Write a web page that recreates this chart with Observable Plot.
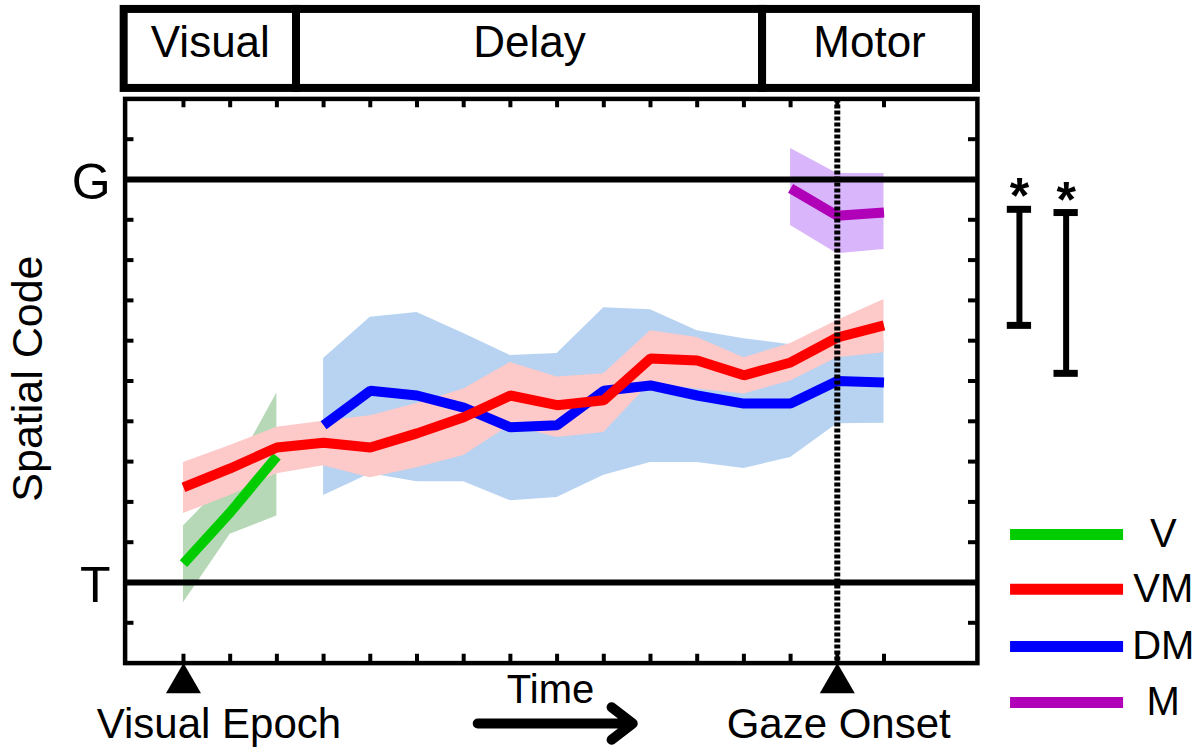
<!DOCTYPE html>
<html>
<head>
<meta charset="utf-8">
<script src="https://cdn.jsdelivr.net/npm/d3@7"></script>
<script src="https://cdn.jsdelivr.net/npm/@observablehq/plot@0.6"></script>
<style>
  html, body { margin: 0; padding: 0; background: #fff; }
  #chart { width: 1204px; height: 750px; }
</style>
</head>
<body>
<div id="chart"></div>
<script>
// ---------- data ----------
const FONT = "Liberation Sans, Arial, Helvetica, sans-serif";

// time bins (x positions of the tick marks)
const timeBins = [0, 1, 2, 3, 4, 5, 6, 7, 8, 9, 10, 11, 12, 13, 14, 15];
// spatial-code ticks (T = 0, G = 1)
const yTicks = [-0.1, 0, 0.1, 0.2, 0.3, 0.4, 0.5, 0.6, 0.7, 0.8, 0.9, 1, 1.1];

// V (visual) population
const vTimes = [0, 1, 2];
const vMean  = [0.047, 0.174, 0.313];
const vLower = [-0.05, 0.12, 0.165];
const vUpper = [0.14, 0.26, 0.47];

// VM (visuomovement) population
const vmTimes = [0, 1, 2, 3, 4, 5, 6, 7, 8, 9, 10, 11, 12, 13, 14, 15];
const vmMean  = [0.236, 0.283, 0.335, 0.347, 0.335, 0.37, 0.41, 0.464, 0.44, 0.452, 0.556, 0.551, 0.514, 0.546, 0.608, 0.638];
const vmLower = [0.171, 0.216, 0.27, 0.29, 0.26, 0.285, 0.315, 0.39, 0.36, 0.372, 0.495, 0.48, 0.468, 0.5, 0.558, 0.57];
const vmUpper = [0.298, 0.34, 0.385, 0.40, 0.414, 0.444, 0.48, 0.546, 0.51, 0.518, 0.625, 0.608, 0.558, 0.593, 0.65, 0.702];

// DM (delay-movement) population
const dmTimes = [3, 4, 5, 6, 7, 8, 9, 10, 11, 12, 13, 14, 15];
const dmMean  = [0.39, 0.476, 0.464, 0.434, 0.385, 0.39, 0.476, 0.489, 0.464, 0.444, 0.444, 0.50, 0.496];
const dmLower = [0.216, 0.27, 0.25, 0.25, 0.203, 0.211, 0.266, 0.298, 0.298, 0.283, 0.31, 0.394, 0.395];
const dmUpper = [0.556, 0.658, 0.67, 0.618, 0.563, 0.568, 0.682, 0.677, 0.625, 0.605, 0.59, 0.6, 0.6];

// M (movement) population
const mTimes = [13, 14, 15];
const mMean  = [0.978, 0.91, 0.918];
const mLower = [0.886, 0.816, 0.826];
const mUpper = [1.077, 1.015, 1.015];

// epochs (top boxes)
const epochNames = ["Visual", "Delay", "Motor"];
const epochStart = [-1.27, 2.42, 12.4];
const epochEnd   = [2.42, 12.4, 16.98];

// event markers
const eventLabels = ["Visual Epoch", "Gaze Onset"];
const eventTimes  = [0, 14];
const eventLabelX = [0.76, 14.03];

// significance bars
const sigX  = [17.9, 18.9];
const sigLo = [0.638, 0.519];
const sigHi = [0.926, 0.918];

// legend
const legendNames  = ["V", "VM", "DM", "M"];
const legendColors = ["#00cc00", "#ff0000", "#0000ff", "#b000b8"];
const legendY      = [0.119, -0.017, -0.159, -0.298];

// ---------- layout / styles ----------
const xDomain = [-1.25, 17];
const yDomain = [-0.2, 1.2];
const tickLenX = 0.19;
const tickLenY = 0.022;

const rows = (times, mean, lo, hi) => times.map((t, i) => ({t, mean: mean[i], lo: lo[i], hi: hi[i]}));
const vRows = rows(vTimes, vMean, vLower, vUpper);
const vmRows = rows(vmTimes, vmMean, vmLower, vmUpper);
const dmRows = rows(dmTimes, dmMean, dmLower, dmUpper);
const mRows = rows(mTimes, mMean, mLower, mUpper);

const epochs = epochNames.map((name, i) => ({name, x1: epochStart[i], x2: epochEnd[i], y1: 1.226, y2: 1.422, ty: 1.303}));
const events = eventLabels.map((label, i) => ({label, t: eventTimes[i], lx: eventLabelX[i], ly: -0.385, my: yDomain[0]}));
const sig = sigX.map((x, i) => ({x, lo: sigLo[i], hi: sigHi[i]}));
const sigCaps = sig.flatMap(d => [{x: d.x, y: d.lo}, {x: d.x, y: d.hi}]);
const legend = legendNames.map((name, i) => ({name, color: legendColors[i], y: legendY[i], x1: 17.71, x2: 20.13, tx: 20.98}));
const gtLabels = [{label: "G", y: 1}, {label: "T", y: 0}];

const lineStyle = {strokeWidth: 10, strokeLinejoin: "miter", strokeLinecap: "butt"};

const chart = Plot.plot({
  width: 1204,
  height: 750,
  marginLeft: 124.6,
  marginRight: 227.1,
  marginTop: 98.4,
  marginBottom: 87.4,
  x: {domain: xDomain, axis: null},
  y: {domain: yDomain, axis: null},
  color: {type: "identity"},
  style: {fontFamily: FONT, background: "white", overflow: "visible"},
  marks: [
    // bands
    Plot.areaY(vRows, {x: "t", y1: "lo", y2: "hi", fill: "#b6d8b6"}),
    Plot.areaY(dmRows, {x: "t", y1: "lo", y2: "hi", fill: "#b8d3f1"}),
    Plot.areaY(vmRows, {x: "t", y1: "lo", y2: "hi", fill: "#fdc9c9"}),
    Plot.areaY(mRows, {x: "t", y1: "lo", y2: "hi", fill: "#d9b5fb"}),
    // G and T reference lines
    Plot.ruleY(gtLabels, {y: "y", stroke: "black", strokeWidth: 6}),
    // mean lines
    Plot.lineY(vRows, {x: "t", y: "mean", stroke: "#00cc00", ...lineStyle}),
    Plot.lineY(dmRows, {x: "t", y: "mean", stroke: "#0000ff", ...lineStyle}),
    Plot.lineY(vmRows, {x: "t", y: "mean", stroke: "#ff0000", ...lineStyle}),
    Plot.lineY(mRows, {x: "t", y: "mean", stroke: "#b000b8", ...lineStyle}),
    // inward ticks on all four sides
    Plot.ruleX(timeBins, {x: d => d, y1: yDomain[0], y2: yDomain[0] + tickLenY, stroke: "black", strokeWidth: 4}),
    Plot.ruleX(timeBins, {x: d => d, y1: yDomain[1] - tickLenY, y2: yDomain[1], stroke: "black", strokeWidth: 4}),
    Plot.ruleY(yTicks, {y: d => d, x1: xDomain[0], x2: xDomain[0] + tickLenX, stroke: "black", strokeWidth: 4}),
    Plot.ruleY(yTicks, {y: d => d, x1: xDomain[1] - tickLenX, x2: xDomain[1], stroke: "black", strokeWidth: 4}),
    Plot.frame({stroke: "black", strokeWidth: 4.5}),
    // gaze onset dotted line
    Plot.ruleX([eventTimes[1]], {x: d => d, stroke: "black", strokeWidth: 6, strokeDasharray: "4,2"}),
    // epoch boxes
    Plot.rect(epochs, {x1: "x1", x2: "x2", y1: "y1", y2: "y2", fill: "white", stroke: "black", strokeWidth: 8}),
    Plot.text(epochs, {x: d => (d.x1 + d.x2) / 2, y: "ty", text: "name", fontSize: 44, lineAnchor: "bottom", fill: "black", fontFamily: FONT}),
    // G / T labels
    Plot.text(gtLabels, {x: -1.56, y: "y", text: "label", fontSize: 50, textAnchor: "end", lineAnchor: "middle", dy: 3, fill: "black", fontFamily: FONT}),
    // y label
    Plot.text(["Spatial Code"], {x: -3.32, y: 0.506, text: d => d, rotate: -90, fontSize: 43, lineAnchor: "middle", fill: "black", fontFamily: FONT}),
    // event markers and labels
    Plot.dot(events, {x: "t", y: "my", symbol: "triangle", r: 13, fill: "black", stroke: null, dy: 20}),
    Plot.text(events, {x: "lx", y: "ly", text: "label", fontSize: 42, lineAnchor: "bottom", fill: "black", fontFamily: FONT}),
    // time label and arrow
    Plot.text(["Time"], {x: 7.86, y: -0.30, text: d => d, fontSize: 40, lineAnchor: "bottom", fill: "black", fontFamily: FONT}),
    Plot.arrow([{x1: 6.3, x2: 9.62, y: -0.35}], {x1: "x1", x2: "x2", y1: "y", y2: "y", stroke: "black", strokeWidth: 10, headLength: 4, headAngle: 75}),
    // significance bars
    Plot.ruleX(sig, {x: "x", y1: "lo", y2: "hi", stroke: "black", strokeWidth: 6}),
    Plot.ruleY(sigCaps, {y: "y", x1: d => d.x - 0.26, x2: d => d.x + 0.26, stroke: "black", strokeWidth: 7}),
    Plot.text(sig, {x: "x", y: "hi", text: () => "*", fontSize: 50, fontWeight: "bold", lineAnchor: "bottom", dy: 4, fill: "black", fontFamily: FONT}),
    // legend
    Plot.ruleY(legend, {y: "y", x1: "x1", x2: "x2", stroke: "color", strokeWidth: 11}),
    Plot.text(legend, {x: "tx", y: "y", text: "name", fontSize: 40, lineAnchor: "middle", fill: "black", fontFamily: FONT})
  ]
});

document.getElementById("chart").appendChild(chart);
</script>
</body>
</html>
